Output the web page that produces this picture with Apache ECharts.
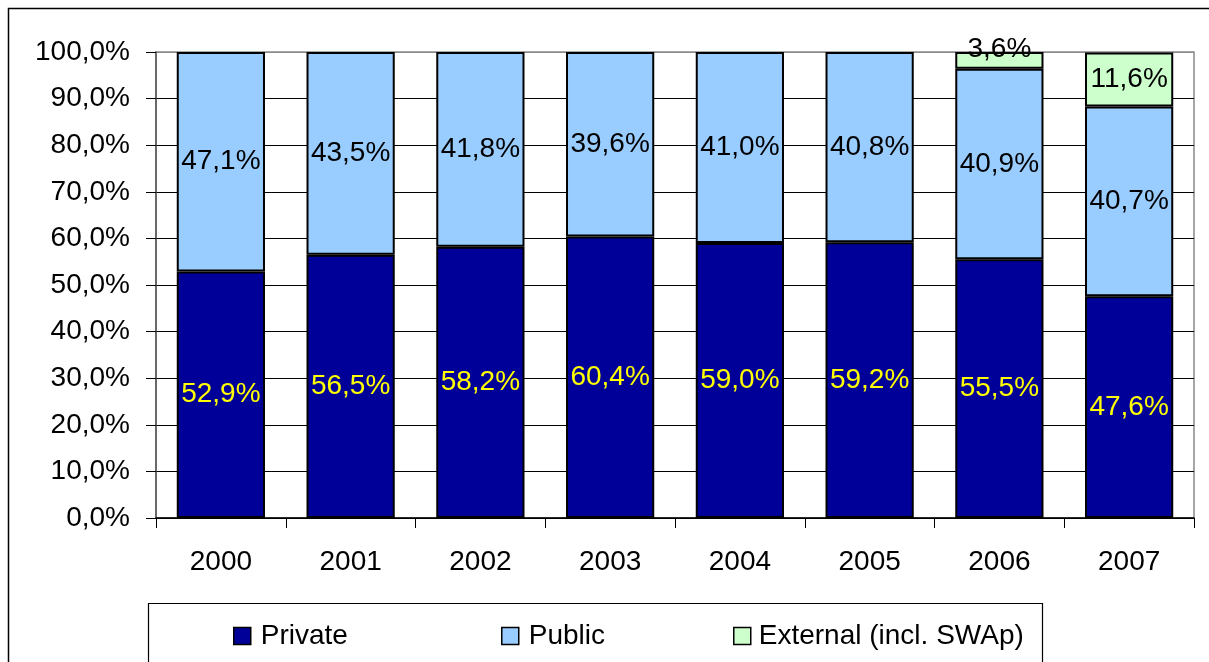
<!DOCTYPE html>
<html>
<head>
<meta charset="utf-8">
<script src="https://cdn.jsdelivr.net/npm/echarts@6/dist/echarts.min.js"></script>
<style>
  html, body { margin: 0; padding: 0; background: #fff; }
  #chart { width: 1209px; height: 662px; }
</style>
</head>
<body>
<div id="chart"></div>
<script>
// Funding shares by source, per year (percent of total)
const years = ['2000', '2001', '2002', '2003', '2004', '2005', '2006', '2007'];
const privateShare = [52.9, 56.5, 58.2, 60.4, 59.0, 59.2, 55.5, 47.6];
const publicShare = [47.1, 43.5, 41.8, 39.6, 41.0, 40.8, 40.9, 40.7];
const externalShare = [null, null, null, null, null, null, 3.6, 11.6];
const yTicks = [0, 10, 20, 30, 40, 50, 60, 70, 80, 90, 100];

const FONT = "'Liberation Sans', Arial, sans-serif";
const fmt = v => v.toFixed(1).replace('.', ',') + '%';

const chart = echarts.init(document.getElementById('chart'), null, { renderer: 'canvas' });

function seriesData(values) {
  return values.map(v => {
    if (v == null) return null;
    // thin segments get their label lifted above the bar top
    if (v < 5) return { value: v, label: { offset: [0, -11] } };
    return v;
  });
}

function barSeries(name, values, color, labelColor) {
  return {
    name: name,
    type: 'bar',
    stack: 'total',
    barCategoryGap: '32%',
    data: seriesData(values),
    itemStyle: { color: color, borderColor: '#000', borderWidth: 2 },
    label: {
      show: true,
      position: 'inside',
      color: labelColor,
      fontFamily: FONT,
      fontSize: 28,
      formatter: p => fmt(p.value)
    },
    emphasis: { disabled: true },
    animation: false
  };
}

const legendBase = {
  top: 617,
  itemWidth: 17,
  itemHeight: 17,
  itemGap: 10,
  icon: 'rect',
  textStyle: { fontFamily: FONT, fontSize: 28, color: '#000' },
  itemStyle: { borderColor: '#000', borderWidth: 1.5 },
  selectedMode: false
};

function legendAt(left, name, gap) {
  return Object.assign({}, legendBase, {
    left: left,
    data: [name],
    textStyle: Object.assign({}, legendBase.textStyle, { padding: [0, 0, 0, gap] })
  });
}

const splitColors = yTicks.map(t => (t === 100 ? '#8a8a8a' : '#000'));

chart.setOption({
  backgroundColor: '#fff',
  animation: false,
  grid: {
    left: 156, right: 15, top: 52, bottom: 144,
    show: true, borderColor: '#8a8a8a', borderWidth: 1.5, backgroundColor: 'transparent'
  },
  xAxis: {
    type: 'category',
    data: years,
    axisLine: { lineStyle: { color: '#000', width: 1.5 } },
    axisTick: { show: true, length: 10, lineStyle: { color: '#000', width: 1 } },
    axisLabel: { color: '#000', fontFamily: FONT, fontSize: 28, margin: 30 }
  },
  yAxis: {
    type: 'value',
    min: 0, max: 100, interval: 10,
    axisLine: { show: true, lineStyle: { color: '#555', width: 1.5 } },
    axisTick: { show: true, length: 10, lineStyle: { color: '#000', width: 1 } },
    splitLine: { show: true, lineStyle: { color: splitColors, width: 1.2 } },
    axisLabel: { color: '#000', fontFamily: FONT, fontSize: 28, margin: 26, formatter: v => fmt(v) }
  },
  legend: [
    legendAt(228, 'Private', 5),
    legendAt(496, 'Public', 5),
    legendAt(728, 'External (incl. SWAp)', 3)
  ],
  graphic: [
    {
      type: 'rect',
      shape: { x: 8.5, y: 8.5, width: 1240, height: 700 },
      style: { fill: 'none', stroke: '#000', lineWidth: 1.5 },
      silent: true
    },
    {
      type: 'rect',
      shape: { x: 148.5, y: 603.5, width: 894, height: 100 },
      style: { fill: 'none', stroke: '#000', lineWidth: 1.2 },
      silent: true
    }
  ],
  series: [
    barSeries('Private', privateShare, '#000099', '#FFFF00'),
    barSeries('Public', publicShare, '#99CCFF', '#000'),
    barSeries('External (incl. SWAp)', externalShare, '#CCFFCC', '#000')
  ]
});
</script>
</body>
</html>
